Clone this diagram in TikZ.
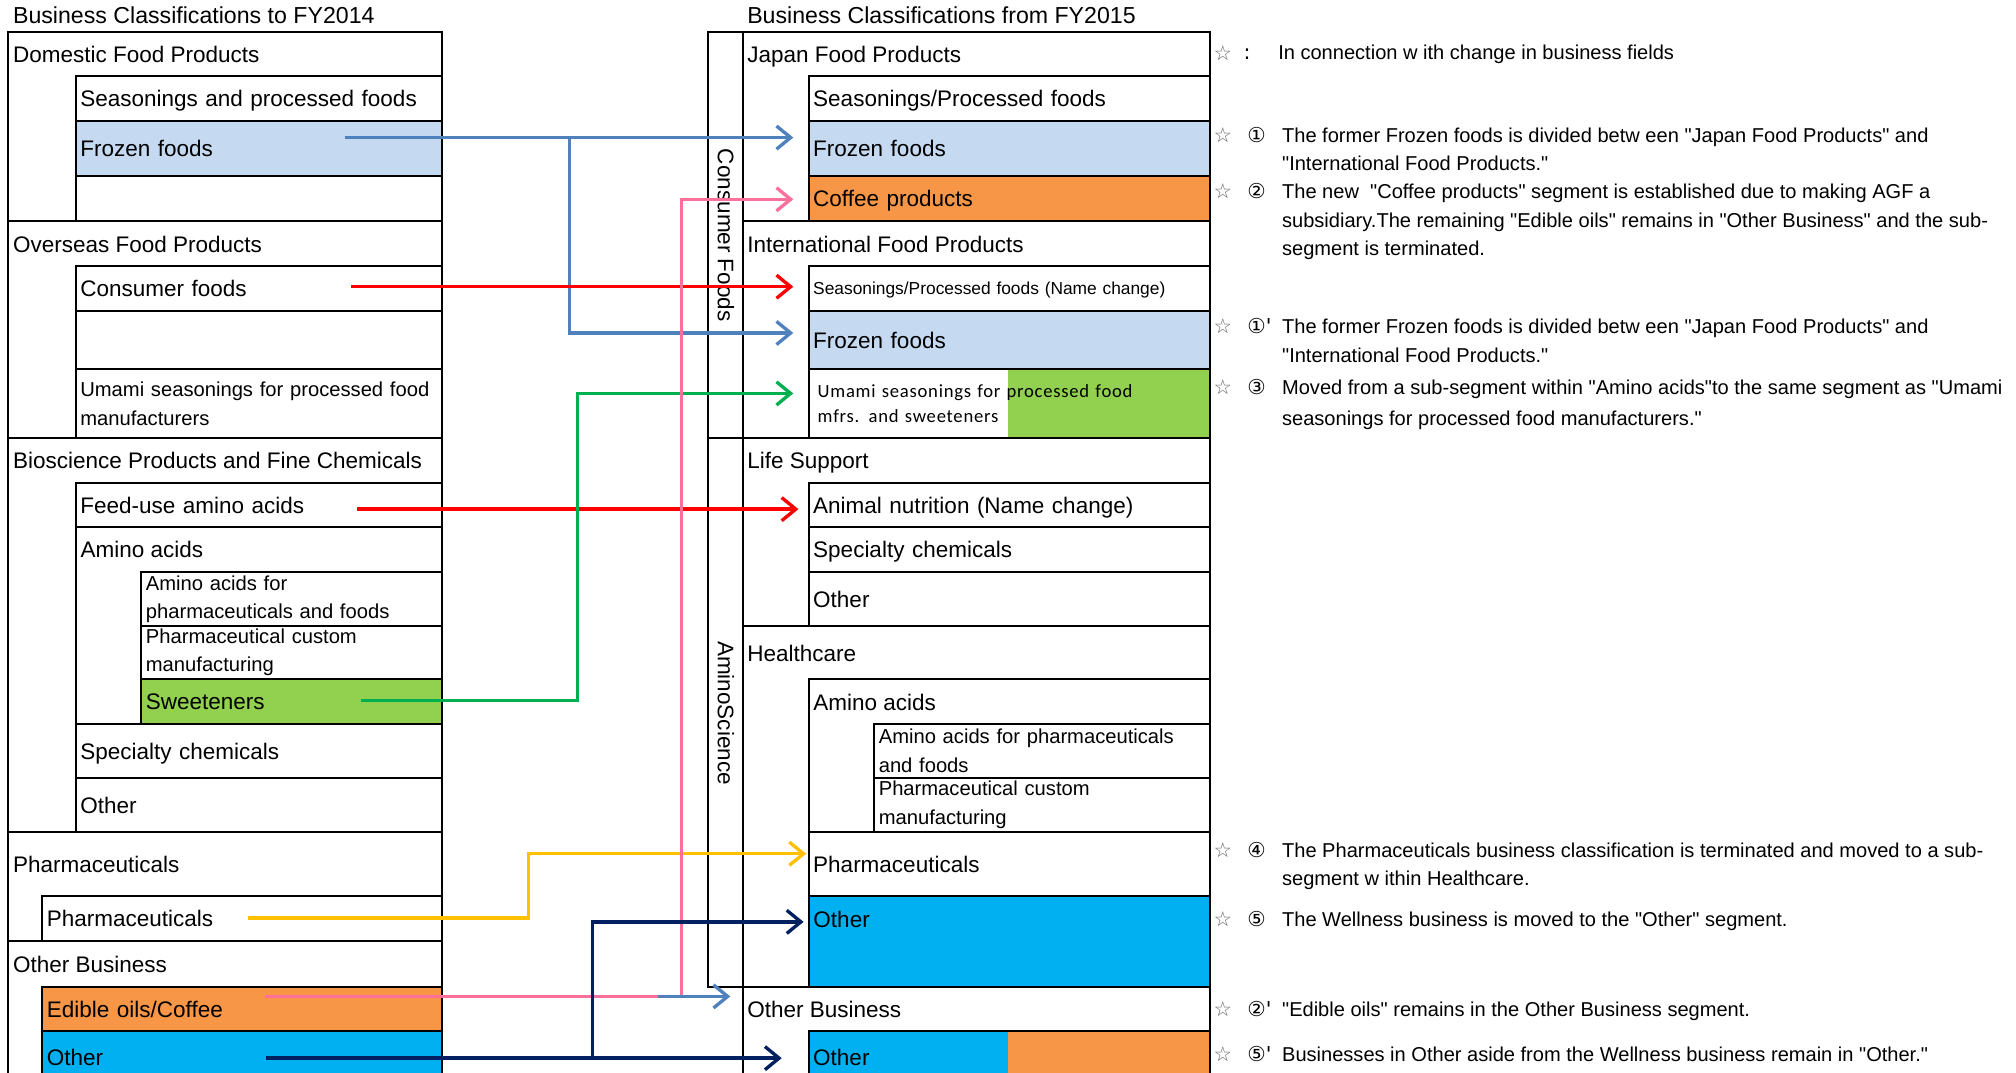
\documentclass[tikz,border=0pt]{standalone}
\usepackage{fontspec}
\setmainfont{Liberation Sans}[Ligatures=TeXOff]
\newfontfamily\dejavu{DejaVu Sans}
\newfontfamily\calfont{Carlito}[LetterSpace=4]
\usepackage{tikz}
\usetikzlibrary{positioning,arrows.meta}

\definecolor{frozblue}{HTML}{C5D9F1}
\definecolor{cofforange}{HTML}{F79646}
\definecolor{sweetgreen}{HTML}{92D050}
\definecolor{wellcyan}{HTML}{00B0F0}
\definecolor{linkblue}{HTML}{4F81BD}
\definecolor{linkpink}{HTML}{FF6F9C}
\definecolor{linkred}{HTML}{FF0000}
\definecolor{linkgreen}{HTML}{00B050}
\definecolor{linkyellow}{HTML}{FFC000}
\definecolor{linknavy}{HTML}{002060}

\begin{document}
\begin{tikzpicture}[
    x=1pt, y=-1pt,
    font=\fontsize{17.5}{21}\selectfont,
    cell/.style={draw, line width=1.5pt, outer sep=0pt, inner xsep=3.5pt, inner ysep=1pt, anchor=north west, align=left, text depth=0pt},
    lrow/.style={cell, text width=278pt},
    lsub/.style={cell, text width=227pt},
    lwide/.style={cell, text width=304pt},
    rrow/.style={cell, text width=305pt},
    rsub/.style={cell, text width=254pt},
    twoline/.style={font=\fontsize{15.7}{22}\selectfont, text depth=},
    hdr/.style={anchor=base west, inner sep=0pt},
    title/.style={hdr, font=\fontsize{18}{21}\selectfont},
    note/.style={anchor=base west, inner sep=0pt, align=left, font=\fontsize{15.6}{22}\selectfont},
    starsym/.style={inner sep=0pt, text=black!60, font=\dejavu\fontsize{16}{16}\selectfont},
    numsym/.style={anchor=base west, inner sep=0pt, font=\dejavu\fontsize{16}{16}\selectfont},
    arr/.style={line width=2.6pt, -{Straight Barb[length=11pt, width=18pt]}}
  ]
  \path[use as bounding box, clip] (0,0) rectangle (1568,834);

  % left side: classifications to FY2014
  \node[title] (ltitle) at (10,18.4) {Business Classifications to FY2014};
  \node[cell, minimum width=338, minimum height=147] (ldom) at (6,25) {};
  \node[cell, minimum width=338, minimum height=169, below=0pt of ldom] (lovs) {};
  \node[cell, minimum width=338, minimum height=306, below=0pt of lovs] (lbio) {};
  \node[cell, minimum width=338, minimum height=85, below=0pt of lbio] (lpha) {};
  \node[cell, minimum width=338, minimum height=110, below=0pt of lpha] (lob) {};
  \node[hdr] (ldomh) at ([xshift=4pt, yshift=-23.3pt]ldom.north west) {Domestic Food Products};
  \node[hdr] (lovsh) at ([xshift=4pt, yshift=-24.3pt]lovs.north west) {Overseas Food Products};
  \node[hdr] (lbioh) at ([xshift=4pt, yshift=-23.3pt]lbio.north west) {Bioscience Products and Fine Chemicals};
  \node[hdr] (lphah) at ([xshift=4pt, yshift=-31.3pt]lpha.north west) {Pharmaceuticals};
  \node[hdr] (lobh) at ([xshift=4pt, yshift=-24.3pt]lob.north west) {Other Business};

  \node[lrow, minimum height=35] (lseas) at (59,59) {Seasonings and processed foods};
  \node[lrow, minimum height=43, fill=frozblue, below=0pt of lseas] (lfroz) {Frozen foods};
  \node[lrow, minimum height=35, below=0pt of lfroz] (lgap1) {};
  \node[lrow, minimum height=35] (lcons) at (59,207) {Consumer foods};
  \node[lrow, minimum height=45, below=0pt of lcons] (lgap2) {};
  \node[lrow, twoline, minimum height=54, below=0pt of lgap2] (lumami) {Umami seasonings for processed food\\manufacturers};
  \node[lrow, minimum height=34] (lfeed) at (59,376) {Feed-use amino acids};
  \node[lrow, minimum height=153, below=0pt of lfeed] (lamino) {};
  \node[hdr] (laminoh) at ([xshift=3.5pt, yshift=-23.3pt]lamino.north west) {Amino acids};
  \node[lsub, twoline, minimum height=42] (laafp) at (110,445) {Amino acids for\\pharmaceuticals and foods};
  \node[lsub, twoline, minimum height=41, below=0pt of laafp] (lpcm) {Pharmaceutical custom\\manufacturing};
  \node[lsub, minimum height=35, fill=sweetgreen, below=0pt of lpcm] (lsweet) {Sweeteners};
  \node[lrow, minimum height=42, below=0pt of lamino] (lspec) {Specialty chemicals};
  \node[lrow, minimum height=42, below=0pt of lspec] (loth) {Other};
  \node[lwide, minimum height=35] (lpharm) at (33,697) {Pharmaceuticals};
  \node[lwide, minimum height=34, fill=cofforange] (ledible) at (33,768) {Edible oils/Coffee};
  \node[lwide, minimum height=40, fill=wellcyan, below=0pt of ledible] (lwell) {Other};

  % right side: classifications from FY2015
  \node[title] (rtitle) at (581,18.4) {Business Classifications from FY2015};
  \node[cell, minimum width=27, minimum height=316] (rcf) at (551,25) {};
  \node[cell, minimum width=27, minimum height=427, below=0pt of rcf] (ras) {};
  \node[rotate=-90, inner sep=0pt] (rcflab) at (rcf.center) {Consumer Foods};
  \node[rotate=-90, inner sep=0pt] (raslab) at (ras.center) {AminoScience};
  \node[cell, minimum width=363, minimum height=147] (rjap) at (578,25) {};
  \node[cell, minimum width=363, minimum height=169, below=0pt of rjap] (rint) {};
  \node[cell, minimum width=363, minimum height=146, below=0pt of rint] (rlife) {};
  \node[cell, minimum width=363, minimum height=281, below=0pt of rlife] (rhc) {};
  \node[cell, minimum width=363, minimum height=74, below=0pt of rhc] (rob) {};
  \node[hdr] (rjaph) at ([xshift=3pt, yshift=-23.3pt]rjap.north west) {Japan Food Products};
  \node[hdr] (rinth) at ([xshift=3pt, yshift=-24.3pt]rint.north west) {International Food Products};
  \node[hdr] (rlifeh) at ([xshift=3pt, yshift=-23.3pt]rlife.north west) {Life Support};
  \node[hdr] (rhch) at ([xshift=3pt, yshift=-27.3pt]rhc.north west) {Healthcare};
  \node[hdr] (robh) at ([xshift=3pt, yshift=-23.3pt]rob.north west) {Other Business};

  \node[rrow, minimum height=35] (rseas) at (629,59) {Seasonings/Processed foods};
  \node[rrow, minimum height=43, fill=frozblue, below=0pt of rseas] (rfroz) {Frozen foods};
  \node[rrow, minimum height=35, fill=cofforange, below=0pt of rfroz] (rcof) {Coffee products};
  \node[rrow, minimum height=35, font=\fontsize{13.5}{16}\selectfont] (rseas2) at (629,207) {Seasonings/Processed foods (Name change)};
  \node[rrow, minimum height=45, fill=frozblue, below=0pt of rseas2] (rfroz2) {Frozen foods};
  \node[rrow, minimum height=54, text width=298pt, inner xsep=7pt, text depth=, font=\calfont\fontsize{14.5}{19}\selectfont,
        path picture={\fill[sweetgreen] ([xshift=155pt]path picture bounding box.north west) rectangle (path picture bounding box.south east);},
        below=0pt of rfroz2] (rumami) {Umami seasonings for processed food\\mfrs. and sweeteners};
  \node[rrow, minimum height=34] (ranim) at (629,376) {Animal nutrition (Name change)};
  \node[rrow, minimum height=35, below=0pt of ranim] (rspec) {Specialty chemicals};
  \node[rrow, minimum height=42, below=0pt of rspec] (roth) {Other};
  \node[rrow, minimum height=119] (ramino) at (629,528) {};
  \node[hdr] (raminoh) at ([xshift=3.5pt, yshift=-24.3pt]ramino.north west) {Amino acids};
  \node[rsub, twoline, minimum height=42] (raafp) at (680,563) {Amino acids for pharmaceuticals\\and foods};
  \node[rsub, twoline, minimum height=42, below=0pt of raafp] (rpcm) {Pharmaceutical custom\\manufacturing};
  \node[rrow, minimum height=50, below=0pt of ramino] (rpharm) {Pharmaceuticals};
  \node[rrow, minimum height=71, fill=wellcyan, below=0pt of rpharm] (rwell) {};
  \node[hdr] (rwellh) at ([xshift=3.5pt, yshift=-24.3pt]rwell.north west) {Other};
  \node[rrow, minimum height=40, fill=wellcyan,
        path picture={\fill[cofforange] ([xshift=155pt]path picture bounding box.north west) rectangle (path picture bounding box.south east);}] (roth2) at (629,802) {Other};

  % notes
  \foreach \ny in {41,105,149,254,301,661,715,785,820}
    \node[starsym] (star\ny) at (951,\ny) {☆};
  \node[numsym] (num0) at (967,46.6) {:};
  \node[numsym] (num1) at (970,110.6) {①};
  \node[numsym] (num2) at (970,154.6) {②};
  \node[numsym] (num1b) at (970,259.6) {①\textquotesingle};
  \node[numsym] (num3) at (970,306.6) {③};
  \node[numsym] (num4) at (970,666.6) {④};
  \node[numsym] (num5) at (970,720.6) {⑤};
  \node[numsym] (num2b) at (970,790.6) {②\textquotesingle};
  \node[numsym] (num5b) at (970,825.6) {⑤\textquotesingle};
  \node[note] (note0) at (994,46.6) {In connection w ith change in business fields};
  \node[note] (note1) at (997,132.6) {The former Frozen foods is divided betw een "Japan Food Products" and\\"International Food Products."};
  \node[note] (note2) at (997,198.6) {The new~ "Coffee products" segment is established due to making AGF a\\subsidiary.The remaining "Edible oils" remains in "Other Business" and the sub-\\segment is terminated.};
  \node[note] (note1b) at (997,281.6) {The former Frozen foods is divided betw een "Japan Food Products" and\\"International Food Products."};
  \node[note] (note3) at (997,330.6) {Moved from a sub-segment within "Amino acids"to the same segment as "Umami\\[2pt]seasonings for processed food manufacturers."};
  \node[note] (note4) at (997,688.6) {The Pharmaceuticals business classification is terminated and moved to a sub-\\segment w ithin Healthcare.};
  \node[note] (note5) at (997,720.6) {The Wellness business is moved to the "Other" segment.};
  \node[note] (note2b) at (997,790.6) {"Edible oils" remains in the Other Business segment.};
  \node[note] (note5b) at (997,825.6) {Businesses in Other aside from the Wellness business remain in "Other."};

  % connectors
  \coordinate (fzs) at (268,107);
  \coordinate (fzb) at (443,107);
  \coordinate (fzc) at (443,259);
  \draw[arr, linkblue, shorten >=12pt] (fzs) -- (fzs -| rfroz.west);
  \draw[arr, linkblue, shorten >=12pt] (fzb) -- (fzc) -- (fzc -| rfroz2.west);
  \coordinate (cns) at (273,223);
  \draw[arr, linkred, shorten >=12pt] (cns) -- (cns -| rseas2.west);
  \coordinate (fds) at (278,396);
  \draw[arr, linkred, shorten >=8pt] (fds) -- (fds -| ranim.west);
  \coordinate (sws) at (281,545);
  \coordinate (swc) at (449,306);
  \draw[arr, linkgreen, shorten >=12pt] (sws) -| (swc) -- (swc -| rumami.west);
  \coordinate (phs) at (193,714);
  \coordinate (phc) at (411,664);
  \draw[arr, linkyellow, shorten >=2pt] (phs) -| (phc) -- (phc -| rpharm.west);
  \coordinate (eds) at (206,775);
  \coordinate (edc) at (530,155);
  \draw[arr, linkpink, shorten >=12pt] (eds) -| (edc) -- (edc -| rcof.west);
  \coordinate (edb) at (512,775);
  \draw[arr, linkblue, shorten >=10pt] (edb) -- (edb -| rob.west);
  \coordinate (ots) at (207,823);
  \coordinate (otb) at (461,823);
  \coordinate (otc) at (461,717);
  \draw[arr, linknavy, shorten >=21pt] (ots) -- (ots -| roth2.west);
  \draw[arr, linknavy, shorten >=4pt] (otb) -- (otc) -- (otc -| rwell.west);
\end{tikzpicture}
\end{document}
